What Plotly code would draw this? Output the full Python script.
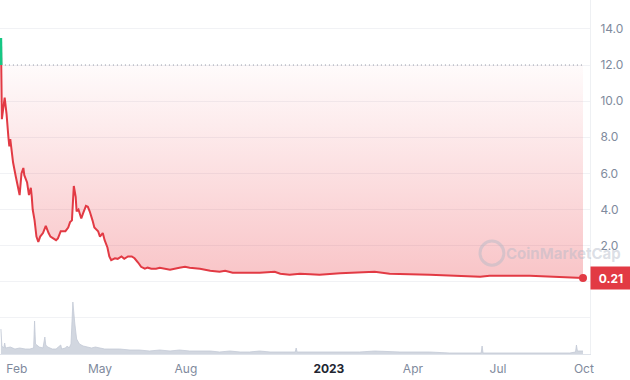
import plotly.graph_objects as go
import pandas as pd

# ---------------- data ----------------
price_dates = [
    "2022-01-15", "2022-01-16", "2022-01-19", "2022-01-21", "2022-01-23", "2022-01-24",
    "2022-01-25", "2022-01-26", "2022-01-28", "2022-01-31", "2022-02-02", "2022-02-04",
    "2022-02-06", "2022-02-08", "2022-02-09", "2022-02-12", "2022-02-14", "2022-02-16",
    "2022-02-17", "2022-02-18", "2022-02-20", "2022-02-22", "2022-02-24", "2022-02-26",
    "2022-03-01", "2022-03-04", "2022-03-07", "2022-03-09", "2022-03-12", "2022-03-15",
    "2022-03-17", "2022-03-20", "2022-03-23", "2022-03-25", "2022-03-28", "2022-03-30",
    "2022-04-01", "2022-04-03", "2022-04-05", "2022-04-06", "2022-04-08", "2022-04-11",
    "2022-04-13", "2022-04-16", "2022-04-18", "2022-04-20", "2022-04-23", "2022-04-25",
    "2022-04-29", "2022-05-01", "2022-05-04", "2022-05-06", "2022-05-09", "2022-05-11",
    "2022-05-13", "2022-05-17", "2022-05-20", "2022-05-24", "2022-05-27", "2022-05-31",
    "2022-06-04", "2022-06-07", "2022-06-11", "2022-06-14", "2022-06-18", "2022-06-21",
    "2022-06-25", "2022-06-30", "2022-07-04", "2022-07-15", "2022-07-25", "2022-07-31",
    "2022-08-05", "2022-08-16", "2022-08-27", "2022-09-06", "2022-09-12", "2022-09-20",
    "2022-10-08", "2022-10-19", "2022-11-04", "2022-11-10", "2022-11-20", "2022-12-01",
    "2022-12-12", "2022-12-22", "2023-01-13", "2023-02-06", "2023-02-19", "2023-03-07",
    "2023-04-19", "2023-06-12", "2023-06-22", "2023-08-04", "2023-09-05", "2023-09-21",
    "2023-09-30",
]
price_values = [
    13.5, 9.0, 10.2, 9.3, 8.0, 7.5,
    7.9, 7.5, 6.6, 5.8, 5.3, 4.8,
    6.0, 6.3, 5.9, 5.5, 4.8, 5.2,
    4.7, 4.0, 3.4, 2.5, 2.2, 2.5,
    2.7, 3.1, 2.7, 2.5, 2.4, 2.3,
    2.4, 2.8, 2.8, 2.8, 3.0, 3.3,
    3.4, 5.3, 4.7, 3.9, 4.0, 3.5,
    3.8, 4.2, 4.15, 3.9, 3.4, 3.0,
    2.8, 2.5, 2.7, 2.3, 1.9, 1.4,
    1.2, 1.3, 1.27, 1.4, 1.27, 1.4,
    1.4, 1.3, 1.05, 0.83, 0.72, 0.78,
    0.72, 0.72, 0.78, 0.66, 0.78, 0.83,
    0.78, 0.72, 0.61, 0.55, 0.61, 0.50,
    0.50, 0.50, 0.55, 0.44, 0.39, 0.44,
    0.42, 0.39, 0.47, 0.50, 0.55, 0.44,
    0.39, 0.28, 0.33, 0.33, 0.28, 0.22,
    0.21,
]
open_price = 12.0

volume_dates = [
    "2022-01-15", "2022-01-16", "2022-01-18", "2022-01-19", "2022-01-20", "2022-01-25",
    "2022-01-30", "2022-02-04", "2022-02-10", "2022-02-15", "2022-02-19", "2022-02-20",
    "2022-02-21", "2022-02-23", "2022-02-25", "2022-03-01", "2022-03-03", "2022-03-04",
    "2022-03-06", "2022-03-11", "2022-03-15", "2022-03-20", "2022-03-21", "2022-03-25",
    "2022-03-27", "2022-03-29", "2022-03-31", "2022-04-02", "2022-04-03", "2022-04-04",
    "2022-04-06", "2022-04-09", "2022-04-13", "2022-04-18", "2022-04-22", "2022-04-26",
    "2022-05-01", "2022-05-06", "2022-05-11", "2022-05-22", "2022-06-02", "2022-06-12",
    "2022-06-23", "2022-07-04", "2022-07-15", "2022-07-25", "2022-08-05", "2022-08-16",
    "2022-08-27", "2022-09-06", "2022-09-17", "2022-09-28", "2022-10-08", "2022-10-19",
    "2022-10-30", "2022-11-15", "2022-11-26", "2022-11-27", "2022-11-28", "2022-12-01",
    "2022-12-22", "2023-01-13", "2023-02-03", "2023-02-19", "2023-03-18", "2023-04-19",
    "2023-05-10", "2023-05-31", "2023-06-13", "2023-06-14", "2023-06-15", "2023-07-03",
    "2023-08-15", "2023-09-16", "2023-09-22", "2023-09-23", "2023-09-24", "2023-09-26",
    "2023-09-30",
]
volume_values = [
    25, 8, 6, 11, 6, 7,
    5, 6, 5, 5, 6, 33,
    10, 8, 7, 6, 17, 9,
    7, 5, 5, 9, 5, 6,
    8, 6, 10, 52, 38, 31,
    15, 10, 8, 7, 6, 7,
    6, 5, 5, 5, 4, 4,
    3, 4, 3, 4, 3, 3,
    3, 2, 3, 2, 2, 3,
    2, 2, 2, 6, 2, 2,
    2, 2, 2, 3, 2, 2,
    1, 1, 1, 8, 1, 1,
    1, 1, 2, 9, 3, 3,
    3,
]

price_ticks = [-2, 0, 2, 4, 6, 8, 10, 12, 14]
price_tick_text = ["", "", "2.0", "4.0", "6.0", "8.0", "10.0", "12.0", "14.0"]
date_ticks = ["2022-02-01", "2022-05-01", "2022-08-01", "2023-01-01",
              "2023-04-01", "2023-07-01", "2023-10-01"]
date_tick_text = ["Feb", "May", "Aug", "<b><span style='color:#222531'>2023</span></b>",
                  "Apr", "Jul", "Oct"]
last_label = "0.21"
watermark = "CoinMarketCap"

# ---------------- styling ----------------
RED = "#e23a44"
GREEN = "#16c784"
GRAY = "#808a9d"
WM = "rgba(176,183,198,0.45)"
FONT = "Inter"

fig = go.Figure()

# volume (secondary axis, bottom band)
fig.add_trace(go.Scatter(
    x=volume_dates, y=volume_values, yaxis="y2", mode="lines",
    line=dict(color="#c3c9d5", width=0.8), fill="tozeroy",
    fillcolor="rgba(195,201,213,0.75)", hoverinfo="skip", showlegend=False,
))

# baseline (open price) dotted line
fig.add_trace(go.Scatter(
    x=price_dates, y=[open_price] * len(price_dates), mode="lines",
    line=dict(color="#8f96a3", width=1, dash="1px,3px"),
    hoverinfo="skip", showlegend=False,
))

# price line with gradient fill towards the baseline
fig.add_trace(go.Scatter(
    x=price_dates, y=price_values, mode="lines",
    line=dict(color=RED, width=2), fill="tonexty",
    fillgradient=dict(type="vertical",
                      colorscale=[[0, "rgba(234,57,67,0.30)"], [1, "rgba(234,57,67,0.02)"]],
                      start=0, stop=open_price),
    hoverinfo="skip", showlegend=False,
))

# green segment above the opening price
i_cross = next(i for i, v in enumerate(price_values) if v < open_price)
t0 = pd.Timestamp(price_dates[i_cross - 1]); t1 = pd.Timestamp(price_dates[i_cross])
v0 = price_values[i_cross - 1]; v1 = price_values[i_cross]
t_cross = t0 + (t1 - t0) * ((v0 - open_price) / (v0 - v1))
fig.add_trace(go.Scatter(
    x=[pd.Timestamp(d) for d in price_dates[:i_cross]] + [t_cross],
    y=price_values[:i_cross] + [open_price], mode="lines",
    line=dict(color=GREEN, width=2.5),
    hoverinfo="skip", showlegend=False,
))

# last point marker
fig.add_trace(go.Scatter(
    x=[price_dates[-1]], y=[price_values[-1]], mode="markers",
    marker=dict(color=RED, size=8), hoverinfo="skip", showlegend=False,
))

fig.update_layout(
    width=630, height=380,
    margin=dict(l=0, r=40, t=0, b=26),
    paper_bgcolor="white", plot_bgcolor="white",
    font=dict(family=FONT, size=12, color=GRAY),
    xaxis=dict(
        type="date", range=["2022-01-14", "2023-10-07 12:00"],
        tickvals=date_ticks, ticktext=date_tick_text,
        showgrid=False, zeroline=False,
        showline=True, linecolor="#dfe3ea", linewidth=1,
        ticks="outside", ticklen=4, tickcolor="rgba(0,0,0,0)",
        tickfont=dict(family=FONT, size=12, color=GRAY),
    ),
    yaxis=dict(
        side="right", range=[-4, 15.6],
        tickvals=price_ticks, ticktext=price_tick_text,
        showgrid=True, gridcolor="#f1f2f5", gridwidth=1, zeroline=False,
        showline=True, linecolor="#eef0f3", mirror=False,
        ticks="outside", ticklen=7, tickcolor="rgba(0,0,0,0)",
        tickfont=dict(family=FONT, size=12, color=GRAY),
    ),
    yaxis2=dict(
        overlaying="y", range=[0, 354], visible=False,
    ),
    annotations=[
        dict(xref="paper", x=1, xanchor="left", yref="y", y=price_values[-1],
             yanchor="middle", text=f"<b>{last_label}</b>", showarrow=False,
             bgcolor=RED, font=dict(family=FONT, size=12, color="white"),
             width=34, height=16, borderpad=3),
        dict(xref="paper", x=1.056, xanchor="right", yref="paper", y=0.285,
             yanchor="middle", text=f"<b>{watermark}</b>", showarrow=False,
             font=dict(family=FONT, size=15, color=WM)),
    ],
    shapes=[
        dict(type="circle", xref="paper", yref="paper",
             x0=0.8136, x1=0.854, y0=0.251, y1=0.319,
             line=dict(color=WM, width=3)),
    ],
)

fig.write_html("out.html")
